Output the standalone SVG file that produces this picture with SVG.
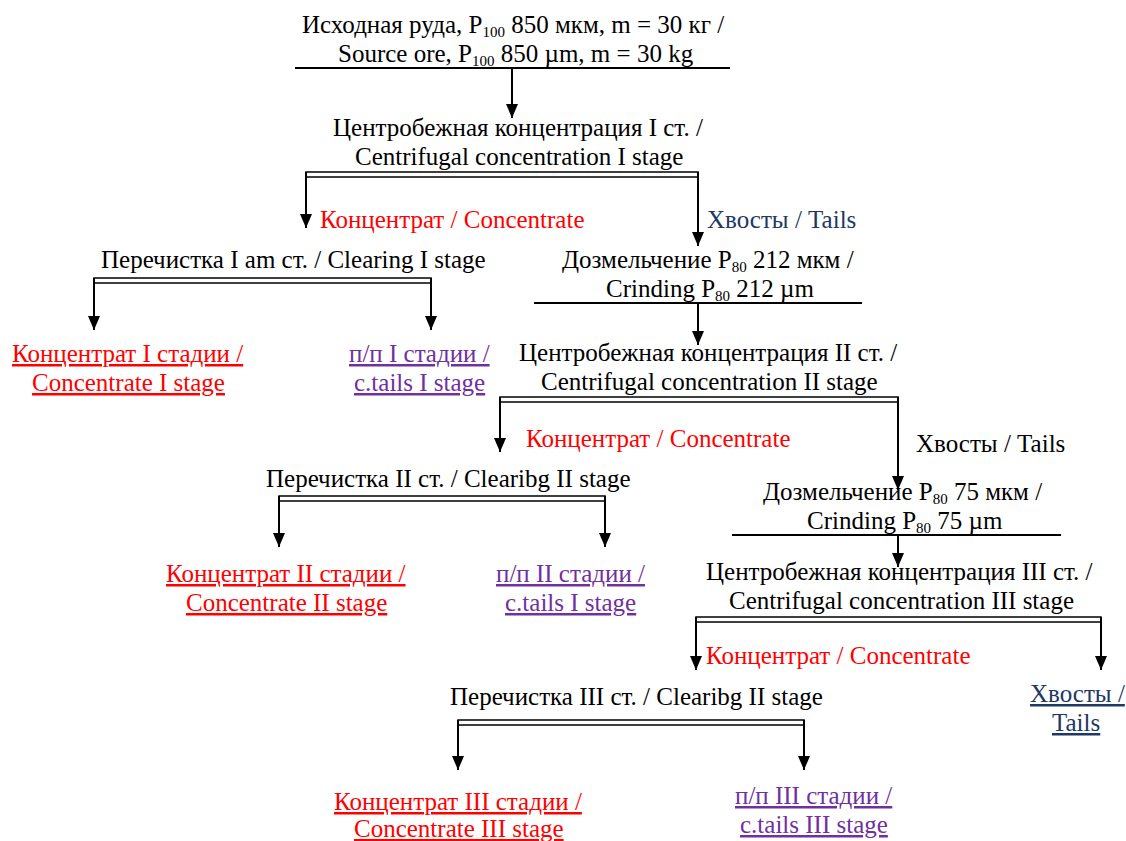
<svg xmlns="http://www.w3.org/2000/svg" width="1126" height="841" viewBox="0 0 1126 841">
<style>
text{font-family:"Liberation Serif","Times New Roman",serif;font-size:25px;fill:#000}
.sub{font-size:15px}
.red{fill:#ff0000}
.pur{fill:#7030a0}
.blu{fill:#203864}
.u{text-decoration:underline}
.ln{stroke:#000;stroke-width:2;fill:none}
.dbl{stroke:#000;stroke-width:1.5;fill:none}
.ar{stroke:#000;stroke-width:2;fill:none;marker-end:url(#ah)}
</style>
<defs>
<marker id="ah" viewBox="0 0 14 12" refX="14" refY="6" markerWidth="14" markerHeight="12" markerUnits="userSpaceOnUse" orient="auto">
<path d="M0,0 L14,6 L0,12 z" fill="#000"/>
</marker>
</defs>
<rect width="1126" height="841" fill="#fff"/>

<g id="connectors">
<line class="ar" x1="512" y1="68" x2="512" y2="118"/>
<line class="ar" x1="306" y1="172" x2="306" y2="228"/>
<line class="ar" x1="698" y1="172" x2="698" y2="246"/>
<line class="ar" x1="94" y1="278" x2="94" y2="330"/>
<line class="ar" x1="431" y1="278" x2="431" y2="330"/>
<line class="ar" x1="698" y1="303" x2="698" y2="345"/>
<line class="ar" x1="500" y1="397" x2="500" y2="452"/>
<line class="ar" x1="898" y1="397" x2="898" y2="490"/>
<line class="ar" x1="279" y1="496" x2="279" y2="547"/>
<line class="ar" x1="605" y1="496" x2="605" y2="547"/>
<line class="ar" x1="898" y1="535" x2="898" y2="567"/>
<line class="ar" x1="696" y1="617" x2="696" y2="670"/>
<line class="ar" x1="1101" y1="617" x2="1101" y2="670"/>
<line class="ar" x1="458" y1="720" x2="458" y2="770"/>
<line class="ar" x1="804" y1="720" x2="804" y2="770"/>
<text class="red" x="320" y="228">Концентрат / Concentrate</text>
<text class="blu" x="707" y="228">Хвосты / Tails</text>
<text class="red" x="526" y="447">Концентрат / Concentrate</text>
<text x="916" y="452">Хвосты / Tails</text>
<text class="red" x="706" y="664">Концентрат / Concentrate</text>
</g>

<g id="n1">
<text x="302" y="33">Исходная руда, P<tspan class="sub" dy="4">100</tspan><tspan dy="-4"> 850 мкм, m = 30 кг /</tspan></text>
<text x="338" y="62">Source ore, P<tspan class="sub" dy="4">100</tspan><tspan dy="-4"> 850 µm, m = 30 kg</tspan></text>
<line class="ln" x1="295" y1="68" x2="730" y2="68"/>
</g>

<g id="n2">
<text x="333" y="136">Центробежная концентрация I ст. /</text>
<text x="355" y="165">Centrifugal concentration I stage</text>
<rect class="dbl" x="306" y="172" width="392" height="5"/>
</g>

<g id="n3">
<text x="101" y="268">Перечистка I am ст. / Clearing I stage</text>
<rect class="dbl" x="94" y="278" width="337" height="5"/>
</g>

<g id="n4">
<text class="red u" x="12" y="362">Концентрат I стадии /</text>
<text class="red u" x="32" y="391">Concentrate I stage</text>
</g>

<g id="n5">
<text class="pur u" x="349" y="362">п/п I стадии /</text>
<text class="pur u" x="354" y="391">c.tails I stage</text>
</g>

<g id="n6">
<text x="562" y="268">Дозмельчение P<tspan class="sub" dy="4">80</tspan><tspan dy="-4"> 212 мкм /</tspan></text>
<text x="606" y="297">Crinding P<tspan class="sub" dy="4">80</tspan><tspan dy="-4"> 212 µm</tspan></text>
<line class="ln" x1="534" y1="303" x2="862" y2="303"/>
</g>

<g id="n7">
<text x="519" y="361">Центробежная концентрация II ст. /</text>
<text x="541" y="390">Centrifugal concentration II stage</text>
<rect class="dbl" x="500" y="397" width="398" height="5"/>
</g>

<g id="n8">
<text x="266" y="487">Перечистка II ст. / Clearibg II stage</text>
<rect class="dbl" x="279" y="496" width="326" height="5"/>
</g>

<g id="n9">
<text class="red u" x="166" y="582">Концентрат II стадии /</text>
<text class="red u" x="186" y="611">Concentrate II stage</text>
</g>

<g id="n10">
<text class="pur u" x="496" y="582">п/п II стадии /</text>
<text class="pur u" x="505" y="611">c.tails I stage</text>
</g>

<g id="n11">
<text x="763" y="500">Дозмельчение P<tspan class="sub" dy="4">80</tspan><tspan dy="-4"> 75 мкм /</tspan></text>
<text x="807" y="529">Crinding P<tspan class="sub" dy="4">80</tspan><tspan dy="-4"> 75 µm</tspan></text>
<line class="ln" x1="732" y1="535" x2="1061" y2="535"/>
</g>

<g id="n12">
<text x="706" y="580">Центробежная концентрация III ст. /</text>
<text x="729" y="609">Centrifugal concentration III stage</text>
<rect class="dbl" x="696" y="617" width="405" height="5"/>
</g>

<g id="n13">
<text class="blu u" x="1030" y="702">Хвосты /</text>
<text class="blu u" x="1052" y="731">Tails</text>
</g>

<g id="n14">
<text x="450" y="705">Перечистка III ст. / Clearibg II stage</text>
<rect class="dbl" x="458" y="720" width="346" height="5"/>
</g>

<g id="n15">
<text class="red u" x="334" y="810">Концентрат III стадии /</text>
<text class="red u" x="354" y="837">Concentrate III stage</text>
</g>

<g id="n16">
<text class="pur u" x="735" y="804">п/п III стадии /</text>
<text class="pur u" x="740" y="833">c.tails III stage</text>
</g>
</svg>
